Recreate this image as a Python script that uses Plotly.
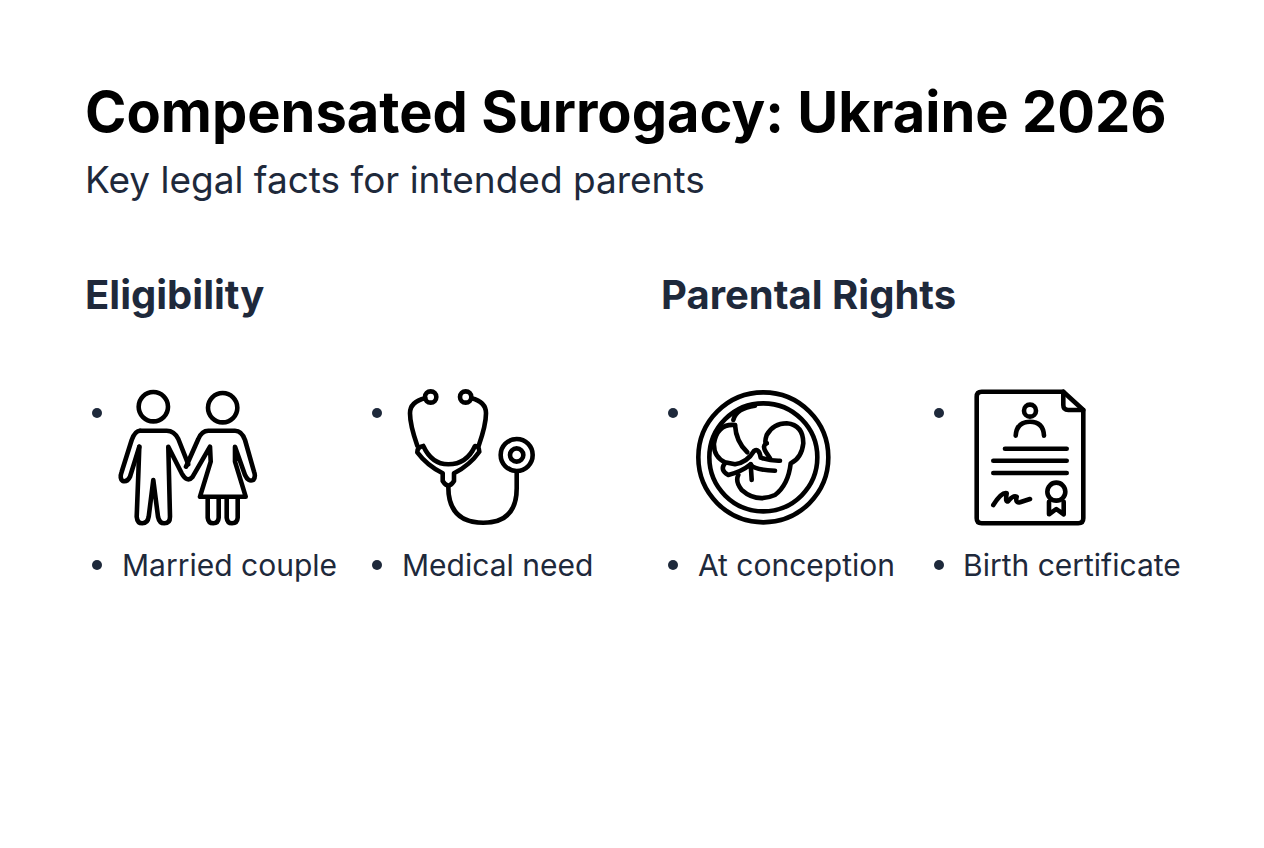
import re
import plotly.graph_objects as go

WIDTH = 1264
HEIGHT = 848
INK = "#000000"
SLATE = "#1e293b"
ICON_LINE = 4.6

title = "Compensated Surrogacy: Ukraine 2026"
subtitle = "Key legal facts for intended parents"
headings = ["Eligibility", "Parental Rights"]
heading_x = [83, 659]
labels = ["Married couple", "Medical need", "At conception", "Birth certificate"]
label_x = [120, 400, 696, 961]
bullet_x = [97, 377, 673, 939]
bullet_y_top = 413
bullet_y_bottom = 565

couple = (80, 375, [
    "M180,167 L260,167 Q283,167 295,192 L325,268",
    "M178,215 L150,305 Q142,322 128,318 Q118,310 125,290 L155,195 Q165,167 180,167",
    "M178,215 L175,300 L170,425 Q172,445 187,445 Q203,445 206,425 L220,315 L234,425 Q238,445 253,445 Q270,445 270,425 L267,300 L265,215 L305,295 Q322,325 338,305 L390,215 L392,260 L360,365 L497,365 L465,260 L465,215 L495,300 Q505,322 520,315 Q528,305 522,290 L495,195 Q485,167 465,167 L385,167 Q365,167 355,192 L318,275",
    "M383,368 L383,428 Q385,445 400,445 Q415,445 416,428 L416,368",
    "M440,368 L440,428 Q442,445 456,445 Q472,445 473,428 L473,368",
])
couple_heads = [(220, 95, 44), (428, 98, 44)]

stethoscope = (360, 375, [
    "M196,70 Q150,80 150,115 Q150,150 172,212",
    "M334,70 Q378,80 378,115 Q378,150 356,212",
    "M190,213 Q215,268 265,268 Q320,268 345,213 Q358,212 358,230 Q330,270 282,295 L282,318 Q265,345 248,318 L248,295 Q200,270 172,232 Q172,215 190,213",
    "M265,335 Q265,443 370,443 Q470,443 470,340 L470,292",
])
stethoscope_rings = [(212, 66, 17), (317, 66, 17), (470, 240, 48), (470, 240, 20)]

embryo = (660, 375, [
    "M225,150 Q172,145 162,205 Q160,245 195,262 L225,268 Q262,262 282,228 Q298,218 302,248 Q330,258 360,257",
    "M220,135 Q228,100 285,92",
    "M225,150 Q228,200 262,232",
    "M320,205 Q312,205 320,180 Q340,145 380,145 Q430,150 430,205 Q425,250 392,265 Q385,330 345,360 Q290,385 245,345 Q225,320 235,300",
    "M320,205 Q305,212 318,232 L330,250",
    "M195,265 Q178,285 205,300 Q245,290 272,268 L275,315",
    "M272,268 Q280,285 345,287",
])
embryo_rings = [(310, 247, 195), (310, 247, 162)]

certificate = (925, 375, [
    "M415,50 L170,50 Q155,50 155,65 L155,430 Q155,445 170,445 L460,445 Q475,445 475,430 L475,105 L415,50",
    "M415,50 L415,90 Q415,105 430,105 L475,105",
    "M272,182 Q275,140 315,140 Q355,140 357,182",
    "M240,221 L425,221",
    "M205,257 L425,257",
    "M205,294 L425,294",
    "M205,390 Q230,350 245,355 Q240,385 250,378 Q265,360 275,365 Q270,385 285,382 L315,372",
    "M372,380 L372,418 L394,402 L416,418 L416,380",
])
certificate_rings = [(315, 107, 18), (394, 350, 27)]


def page_path(path, ox, oy):
    """Turn a crop-pixel path into page coordinates"""

    def convert(m):
        return f"{int(m.group(1)) / 3 + ox:.1f},{int(m.group(2)) / 3 + oy:.1f}"

    return re.sub(r"(\d+),(\d+)", convert, path)


def add_icon(fig, icon, rings):
    ox, oy, paths = icon
    line = dict(color=INK, width=ICON_LINE)
    for p in paths:
        fig.add_shape(type="path", path=page_path(p, ox, oy), line=line)
    for cx, cy, r in rings:
        fig.add_shape(
            type="circle",
            x0=(cx - r) / 3 + ox,
            x1=(cx + r) / 3 + ox,
            y0=(cy - r) / 3 + oy,
            y1=(cy + r) / 3 + oy,
            line=line,
        )


def add_text(fig, text, x, y, size, color, weight):
    fig.add_annotation(
        x=x,
        y=y,
        text=text,
        showarrow=False,
        xanchor="left",
        yanchor="middle",
        font=dict(family="Inter", size=size, color=color, weight=weight),
    )


fig = go.Figure()
fig.add_trace(
    go.Scatter(
        x=bullet_x + bullet_x,
        y=[bullet_y_top] * 4 + [bullet_y_bottom] * 4,
        mode="markers",
        marker=dict(color=SLATE, size=10),
        hoverinfo="skip",
    )
)

add_icon(fig, couple, couple_heads)
add_icon(fig, stethoscope, stethoscope_rings)
add_icon(fig, embryo, embryo_rings)
add_icon(fig, certificate, certificate_rings)

add_text(fig, title, 83, 112, 56, INK, 700)
add_text(fig, subtitle, 83, 179, 37, SLATE, 400)
for text, x in zip(headings, heading_x):
    add_text(fig, text, x, 294, 40, SLATE, 700)
for text, x in zip(labels, label_x):
    add_text(fig, text, x, 565, 30, SLATE, 400)

fig.update_xaxes(range=[0, WIDTH], visible=False)
fig.update_yaxes(range=[HEIGHT, 0], visible=False)
fig.update_layout(
    width=WIDTH,
    height=HEIGHT,
    margin=dict(l=0, r=0, t=0, b=0),
    paper_bgcolor="white",
    plot_bgcolor="white",
    showlegend=False,
)

# plotly has no line cap setting, the icons need round ends
post = """
document.body.style.margin = '0';
document.body.style.overflow = 'hidden';
document.querySelectorAll('.shapelayer path').forEach(function (p) {
    p.style.strokeLinecap = 'round';
    p.style.strokeLinejoin = 'round';
});
"""
fig.write_html("out.html", config=dict(displayModeBar=False), post_script=post)
